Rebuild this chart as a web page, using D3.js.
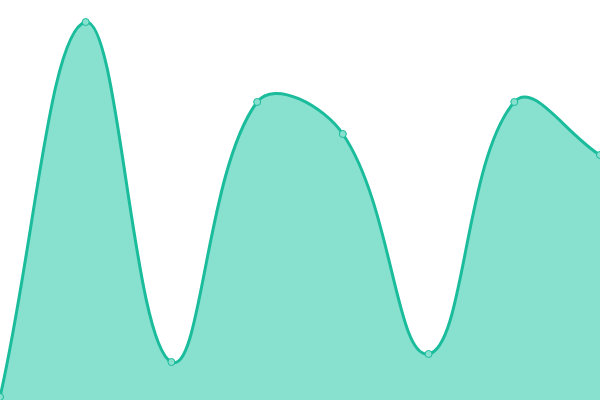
<!DOCTYPE html>
<html>
<head>
<meta charset="utf-8">
<script src="https://cdn.jsdelivr.net/npm/d3@7"></script>
<style>
  html, body { margin: 0; padding: 0; background: #fff; }
  svg { display: block; }
</style>
</head>
<body>
<svg id="chart" width="600" height="400"></svg>
<script>
// categories are just index positions along x
const categories = [0, 1, 2, 3, 4, 5, 6, 7];
const values = [0.75, 94.5, 9.5, 74.5, 66.5, 11.5, 74.5, 61.25];

const width = 600, height = 400;
const tension = 0.4;
const svg = d3.select('#chart');

const x = d3.scaleLinear()
  .domain([0, categories.length - 1])
  .range([0, width]);

const y = d3.scaleLinear()
  .domain([0, 100])
  .range([height, 0]);

const pts = categories.map((c, i) => ({ x: x(c), y: y(values[i]) }));

// spline control points, weighted by distance to neighbours
pts.forEach((p, i) => {
  const prev = pts[i - 1] || p;
  const next = pts[i + 1] || p;
  const d01 = Math.hypot(p.x - prev.x, p.y - prev.y);
  const d12 = Math.hypot(next.x - p.x, next.y - p.y);
  let s01 = d01 / (d01 + d12), s12 = d12 / (d01 + d12);
  if (isNaN(s01)) s01 = 0;
  if (isNaN(s12)) s12 = 0;
  const fa = tension * s01, fb = tension * s12;
  p.cpIn = { x: p.x - fa * (next.x - prev.x), y: p.y - fa * (next.y - prev.y) };
  p.cpOut = { x: p.x + fb * (next.x - prev.x), y: p.y + fb * (next.y - prev.y) };
  [p.cpIn, p.cpOut].forEach(cp => {
    cp.x = Math.max(0, Math.min(width, cp.x));
    cp.y = Math.max(0, Math.min(height, cp.y));
  });
});

function trace(path) {
  path.moveTo(pts[0].x, pts[0].y);
  for (let i = 1; i < pts.length; i++) {
    const a = pts[i - 1], b = pts[i];
    path.bezierCurveTo(a.cpOut.x, a.cpOut.y, b.cpIn.x, b.cpIn.y, b.x, b.y);
  }
  return path;
}

const areaPath = trace(d3.path());
areaPath.lineTo(pts[pts.length - 1].x, y(0));
areaPath.lineTo(pts[0].x, y(0));
areaPath.closePath();

svg.append('path')
  .attr('d', areaPath.toString())
  .attr('fill', '#88e0cf');

svg.append('path')
  .attr('d', trace(d3.path()).toString())
  .attr('fill', 'none')
  .attr('stroke', '#1abc9c')
  .attr('stroke-width', 3);

svg.selectAll('circle.pt')
  .data(pts)
  .enter()
  .append('circle')
  .attr('class', 'pt')
  .attr('cx', d => d.x)
  .attr('cy', d => d.y)
  .attr('r', 3.5)
  .attr('fill', '#88e0cf')
  .attr('stroke', '#1abc9c')
  .attr('stroke-width', 1);
</script>
</body>
</html>
